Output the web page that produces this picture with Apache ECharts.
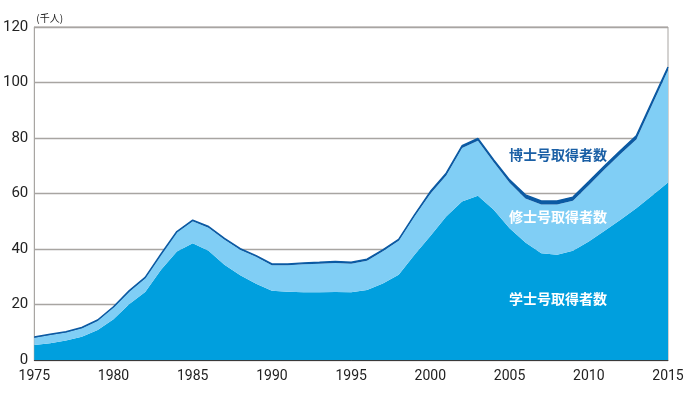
<!DOCTYPE html>
<html>
<head>
<meta charset="utf-8">
<script src="https://cdn.jsdelivr.net/npm/echarts@6/dist/echarts.min.js"></script>
<style>html,body{margin:0;padding:0;background:#fff}#c{width:690px;height:395px}</style>
</head>
<body>
<div id="c"></div>
<script>
const years = ['1975','1976','1977','1978','1979','1980','1981','1982','1983','1984','1985','1986','1987','1988','1989','1990','1991','1992','1993','1994','1995','1996','1997','1998','1999','2000','2001','2002','2003','2004','2005','2006','2007','2008','2009','2010','2011','2012','2013','2014','2015'];
const bachelor = [5.4,6.0,7.0,8.4,10.8,14.7,20.2,24.5,32.5,39.1,42.1,39.4,34.3,30.5,27.5,25.0,24.6,24.4,24.4,24.5,24.4,25.2,27.6,30.7,37.9,44.7,51.7,57.1,59.2,54.1,47.5,42.3,38.5,37.9,39.4,42.7,46.6,50.5,54.7,59.3,64.0];
const master = [2.6,3.0,2.9,3.0,3.3,4.2,4.5,5.0,5.4,6.9,7.9,8.3,9.1,9.2,9.7,9.1,9.5,10.1,10.3,10.5,10.3,10.6,11.6,12.3,13.9,15.2,14.8,19.3,19.8,17.2,16.4,15.9,17.5,18.1,18.0,20.3,22.1,23.7,24.8,32.7,40.4];
const doctor = [0.3,0.3,0.3,0.3,0.3,0.3,0.3,0.3,0.3,0.3,0.4,0.4,0.4,0.4,0.4,0.5,0.5,0.5,0.5,0.5,0.5,0.5,0.5,0.5,0.5,0.8,0.8,0.8,0.8,0.8,1.0,1.3,1.3,1.3,1.3,1.3,1.3,1.3,1.3,1.2,1.2];
const seriesNames = ['学士号取得者数','修士号取得者数','博士号取得者数'];
const unitLabel = '(千人)';

const chart = echarts.init(document.getElementById('c'));
const numFont = '"Liberation Sans Narrow", "Roboto", sans-serif';
const cjkFont = '"Noto Sans CJK JP", sans-serif';
chart.setOption({
  animation: false,
  grid: {left: 32, right: 22, top: 27, bottom: 35, show: true, borderColor: '#a8a5a2', borderWidth: 1},
  xAxis: {
    type: 'category', data: years, boundaryGap: false,
    axisLine: {lineStyle: {color: '#3a3a3a', width: 1}},
    axisTick: {show: false},
    axisLabel: {interval: 4, color: '#222', fontSize: 14, fontFamily: numFont, margin: 9, showMaxLabel: true},
    splitLine: {show: false}
  },
  yAxis: {
    type: 'value', min: 0, max: 120, interval: 20,
    name: unitLabel, nameLocation: 'end', nameGap: 4,
    nameTextStyle: {color: '#222', fontSize: 10, fontFamily: cjkFont, align: 'left', padding: [0, 0, 0, 2]},
    axisLine: {show: true, lineStyle: {color: '#a8a5a2', width: 1}},
    axisTick: {show: false},
    axisLabel: {color: '#222', fontSize: 15, fontFamily: numFont, margin: 6},
    splitLine: {lineStyle: {color: '#a8a5a2', width: 1.3}}
  },
  series: [
    {name: seriesNames[0], type: 'line', stack: 's', data: bachelor, symbol: 'none',
     lineStyle: {width: 0}, areaStyle: {color: '#009fde', opacity: 1}, z: 2},
    {name: seriesNames[1], type: 'line', stack: 's', data: master, symbol: 'none',
     lineStyle: {width: 0}, areaStyle: {color: '#80cef5', opacity: 1}, z: 2},
    {name: seriesNames[2], type: 'line', stack: 's', data: doctor, symbol: 'none',
     lineStyle: {width: 1.5, color: '#0b5aa3'}, areaStyle: {color: '#0b5aa3', opacity: 1}, z: 3}
  ],
  graphic: [
    {type: 'text', left: 509, top: 148, z: 100, style: {text: seriesNames[2], fill: '#1a5fa5', font: 'bold 14px ' + cjkFont}},
    {type: 'text', left: 509, top: 210, z: 100, style: {text: seriesNames[1], fill: '#ffffff', font: 'bold 14px ' + cjkFont}},
    {type: 'text', left: 509, top: 292, z: 100, style: {text: seriesNames[0], fill: '#ffffff', font: 'bold 14px ' + cjkFont}}
  ]
});
</script>
</body>
</html>
